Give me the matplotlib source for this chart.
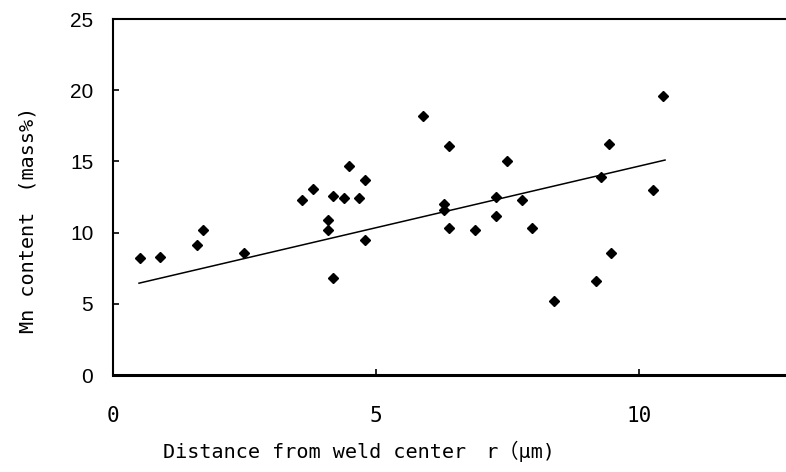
import matplotlib.pyplot as plt

# Mn content vs distance from weld center
r = [0.51, 0.90, 1.61, 1.72, 2.49, 3.60, 3.80, 4.09, 4.09, 4.19, 4.19,
     4.40, 4.49, 4.69, 4.80, 4.80, 5.90, 6.29, 6.29, 6.39, 6.40, 6.89,
     7.29, 7.29, 7.49, 7.79, 7.98, 8.38, 9.18, 9.28, 9.44, 9.47, 10.28, 10.46]
mn = [8.2, 8.3, 9.1, 10.2, 8.6, 12.3, 13.1, 10.9, 10.2, 12.6, 6.8,
      12.4, 14.7, 12.4, 13.7, 9.5, 18.2, 12.0, 11.6, 10.3, 16.1, 10.2,
      12.5, 11.2, 15.0, 12.3, 10.3, 5.2, 6.6, 13.9, 16.2, 8.6, 13.0, 19.6]

# trend line as drawn in the figure
trend_r = [0.5, 10.5]
trend_mn = [6.45, 15.1]

xticks = [0, 5, 10]
yticks = [0, 5, 10, 15, 20, 25]

mono = ['DejaVu Sans Mono', 'Noto Sans CJK JP']

fig = plt.figure(figsize=(7.86, 4.72), dpi=100)
ax = fig.add_axes([0.1434, 0.2055, 0.870, 0.754])

ax.plot(r, mn, 'D', color='black', markersize=5, zorder=3)
ax.plot(trend_r, trend_mn, color='black', lw=1.1)

ax.set_xlim(0, 13)
ax.set_ylim(0, 25)
ax.set_xticks(xticks)
ax.set_yticks(yticks)
ax.tick_params(direction='in', length=4.5, width=1.2)
ax.set_xticklabels([str(t) for t in xticks], family=mono, fontsize=15)
ax.set_yticklabels([str(t) for t in yticks], family='Liberation Sans', fontsize=15)
ax.tick_params(axis='x', pad=22)
ax.tick_params(axis='y', pad=14)

ax.spines['right'].set_visible(False)
ax.spines['left'].set_linewidth(1.5)
ax.spines['top'].set_linewidth(1.5)
ax.spines['bottom'].set_linewidth(2.2)

fig.text(0.457, 0.044, 'Distance from weld center\u3000r\uff08\u03bcm)',
         family=mono, fontsize=14.5, ha='center', va='center')
fig.text(0.035, 0.534, 'Mn content\u3000(mass%)', family=mono, fontsize=14.5,
         rotation=90, ha='center', va='center')

fig.savefig('out.png', dpi=100)
